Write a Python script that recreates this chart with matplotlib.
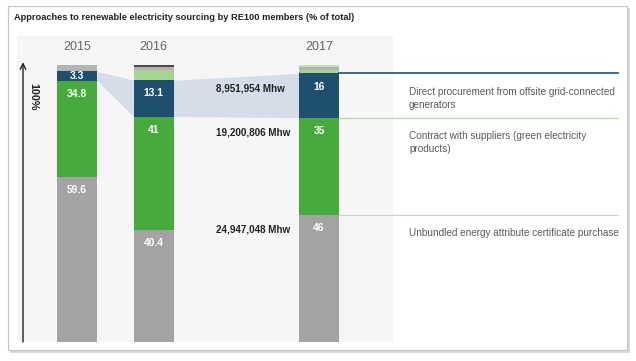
import matplotlib.pyplot as plt
from matplotlib.patches import Rectangle

plt.rcParams["font.family"] = ["Liberation Sans", "DejaVu Sans"]

# Data (% of total)
years = ["2015", "2016", "2017"]
unbundled = [59.6, 40.4, 46]
contract = [34.8, 41, 35]
direct = [3.3, 13.1, 16]
# small unlabelled slices on top of each bar, bottom to top
other = [
    [("#b3b3b1", 2.3)],
    [("#a9d48f", 3.7), ("#b3b3b1", 1.1), ("#4a4a4a", 0.7)],
    [("#a9d48f", 1.2), ("#b3b3b1", 1.0), ("#c4e3b0", 0.8)],
]
volumes = ["24,947,048 Mhw", "19,200,806 Mhw", "8,951,954 Mhw"]
categories = [
    "Unbundled energy attribute certificate purchase",
    "Contract with suppliers (green electricity\nproducts)",
    "Direct procurement from offsite grid-connected\ngenerators",
]

# colours / layout
c_gray = "#a3a3a1"
c_green = "#46aa3c"
c_blue = "#1f4f6f"
c_band = "#d5dde8"
pos = [60, 136.5, 302]  # bar centres (axes x units)
width = 40
right_end = 601
label_x = 392

W, H = 636, 361
fig = plt.figure(figsize=(W / 100, H / 100), dpi=100)

# card with shadow
fig.patches.append(Rectangle((10 / W, (H - 353) / H), 620 / W, 345 / H,
                             transform=fig.transFigure, facecolor="#d9d9d9",
                             edgecolor="none", zorder=-2))
fig.patches.append(Rectangle((8 / W, (H - 350) / H), 619 / W, 344 / H,
                             transform=fig.transFigure, facecolor="white",
                             edgecolor="#c4c4c4", lw=0.8, zorder=-1))

fig.text(14 / W, (H - 18) / H,
         "Approaches to renewable electricity sourcing by RE100 members (% of total)",
         fontsize=6.7, fontweight="bold", color="#222222", va="center")

# axes: bottom at y=342 px, 100% at y=65 px
ax = fig.add_axes([17 / W, (H - 342) / H, 603 / W, (342 - 36) / H])
ax.set_xlim(0, 603)
ax.set_ylim(0, 100 * (342 - 36) / (342 - 65))
ax.axis("off")
ax.patch.set_visible(False)
ax.add_patch(Rectangle((0, 0), 376 / 603, 1, transform=ax.transAxes,
                       facecolor="#f6f6f6", edgecolor="none", zorder=0))

# cumulative levels
base_c = unbundled
base_d = [u + c for u, c in zip(unbundled, contract)]
top_d = [b + d for b, d in zip(base_d, direct)]

# connection band for direct procurement
for i in range(len(years) - 1):
    x0 = pos[i] + width / 2
    x1 = pos[i + 1] - width / 2
    ax.fill_between([x0, x1], [base_d[i], base_d[i + 1]],
                    [top_d[i], top_d[i + 1]], color=c_band, lw=0, zorder=1)

ax.bar(pos, unbundled, width, color=c_gray, zorder=2)
ax.bar(pos, contract, width, bottom=base_c, color=c_green, zorder=2)
ax.bar(pos, direct, width, bottom=base_d, color=c_blue, zorder=2)
for i, slices in enumerate(other):
    b = top_d[i]
    for col, v in slices:
        ax.bar(pos[i], v, width, bottom=b, color=col, zorder=2)
        b += v

# value labels in the bars
for i in range(len(years)):
    for v, bottom in [(unbundled[i], 0), (contract[i], base_c[i]), (direct[i], base_d[i])]:
        top = bottom + v
        txt = f"{v:g}"
        if v < 5:
            ax.text(pos[i], bottom + v / 2, txt, ha="center", va="center",
                    color="white", fontsize=7.4, fontweight="bold", zorder=3)
        else:
            ax.annotate(txt, (pos[i], top), xytext=(0, -9.5), textcoords="offset points",
                        ha="center", va="center", color="white", fontsize=7.4,
                        fontweight="bold", zorder=3)
    ax.text(pos[i], 106.5, years[i], ha="center", va="center",
            fontsize=9, color="#666666")

# lines and labels on the right
levels = [unbundled[2], base_d[2], top_d[2]]
line_styles = [("#d0d0d0", 0.8), ("#b3dba6", 0.9), ("#2f5d7f", 1.3)]
x_start = pos[2] + width / 2
for lvl, (col, lw), vol, cat in zip(levels, line_styles, volumes, categories):
    ax.plot([x_start, right_end], [lvl, lvl], color=col, lw=lw, zorder=2)
    ax.annotate(vol, (199, lvl), xytext=(0, -11), textcoords="offset points",
                ha="left", va="center", fontsize=7.1, fontweight="bold",
                color="#222222", zorder=3)
    ax.annotate(cat, (label_x, lvl), xytext=(0, -9.5), textcoords="offset points",
                ha="left", va="top", fontsize=7.2, color="#5a5a5a",
                linespacing=1.4, zorder=3)

# 100% arrow
ax.annotate("", xy=(6, 101), xytext=(6, 0),
            arrowprops=dict(arrowstyle="->", lw=1.0, color="#222222",
                            shrinkA=0, shrinkB=0))
ax.text(16, 88.5, "100%", rotation=-90, ha="center", va="center",
        fontsize=7.8, fontweight="bold", color="#222222")

fig.savefig("out.png", dpi=100)
